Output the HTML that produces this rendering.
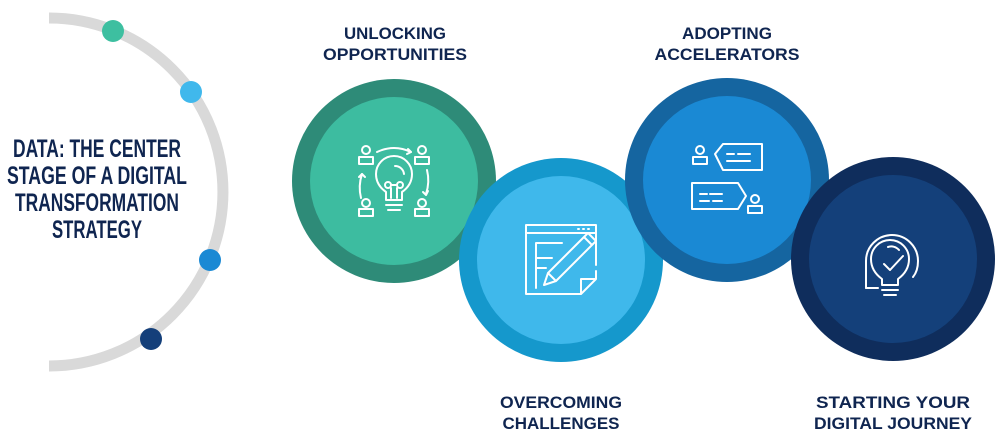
<!DOCTYPE html>
<html><head><meta charset="utf-8"><style>
html,body{margin:0;padding:0;background:#fff;width:1003px;height:446px;overflow:hidden}
svg{display:block}
.lb{font-family:"Liberation Sans",sans-serif;font-weight:bold;font-size:16.5px;fill:#0f2550;text-anchor:middle}
.tt{font-family:"Liberation Sans",sans-serif;font-weight:bold;font-size:25px;fill:#0f2550;text-anchor:middle}
.ic{fill:none;stroke:#fff;stroke-width:2;stroke-linecap:round;stroke-linejoin:round}
</style></head><body>
<svg width="1003" height="446" viewBox="0 0 1003 446" xmlns="http://www.w3.org/2000/svg">
<path d="M49 18 A174 174 0 0 1 49 366" fill="none" stroke="#d9d9d9" stroke-width="11"/>
<circle cx="113" cy="31" r="11" fill="#3dbfa0"/>
<circle cx="191" cy="92" r="11" fill="#40b8ec"/>
<circle cx="210" cy="260" r="11" fill="#1a89d4"/>
<circle cx="151" cy="339" r="11" fill="#143f7a"/>
<text class="tt" x="97" y="157" textLength="168" lengthAdjust="spacingAndGlyphs">DATA: THE CENTER</text>
<text class="tt" x="97" y="184" textLength="180" lengthAdjust="spacingAndGlyphs">STAGE OF A DIGITAL</text>
<text class="tt" x="97" y="211" textLength="164" lengthAdjust="spacingAndGlyphs">TRANSFORMATION</text>
<text class="tt" x="97" y="238" textLength="90" lengthAdjust="spacingAndGlyphs">STRATEGY</text>

<circle cx="394" cy="181" r="102" fill="#2e8b78"/>
<circle cx="394" cy="181" r="84" fill="#3dbca0"/>
<circle cx="561" cy="260" r="102" fill="#1598cc"/>
<circle cx="561" cy="260" r="84" fill="#3fb8eb"/>
<circle cx="727" cy="180" r="102" fill="#1565a0"/>
<circle cx="727" cy="180" r="84" fill="#1a89d4"/>
<circle cx="893" cy="259" r="102" fill="#0f2d5c"/>
<circle cx="893" cy="259" r="84" fill="#14407a"/>

<g class="ic">
<circle cx="366" cy="150" r="4"/><path d="M359 164v-7h14v7z"/>
<circle cx="422" cy="150" r="4"/><path d="M415 164v-7h14v7z"/>
<circle cx="366" cy="203" r="4"/><path d="M359 216v-7h14v7z"/>
<circle cx="422" cy="203" r="4"/><path d="M415 216v-7h14v7z"/>
<path d="M377 152q17-8 34 0"/><path d="M408 149l3 3-4 2"/>
<path d="M427 170q3 12-1 24"/><path d="M423 192l3 3 2-4"/>
<path d="M361 198q-3-12 1-24"/><path d="M359 177l3-3 3 3"/>
<path d="M386 200v-8q-10-7-10-18a18 18 0 0 1 36 0q0 11-10 18v8z"/>
<path d="M386 205h16M388 210h12"/>
<circle cx="388" cy="185" r="3"/><circle cx="400" cy="185" r="3"/><path d="M391 185h6M391 188v10M397 188v10"/>
<path d="M395 166a9 9 0 0 1 9 8"/>
</g>
<g class="ic">
<path d="M526 225h70v40M526 225v69h55l15-15v-8M581 294v-15h15"/>
<path d="M526 233h70"/>
<path d="M578 229h1M583 229h1M588 229h1"/>
<path d="M536 243h26M536 243v45M536 258h16M536 268h10"/>
<path d="M544 285l4-12 40-40 8 8-40 40z M548 273l8 8 M584 237l8 8"/>
</g>
<g class="ic">
<circle cx="700" cy="150" r="4"/><path d="M693 164v-7h14v7z"/>
<path d="M715 154l8-10h39v26h-39z"/>
<path d="M727 154h7M738 154h12M727 161h23"/>
<path d="M692 183h46l8 13-8 13h-46z"/>
<path d="M700 194h7M710 194h12M700 201h9M713 201h9"/>
<circle cx="755" cy="199" r="4"/><path d="M748 213v-7h14v7z"/>
</g>
<g class="ic">
<path d="M866 288v-27a26 26 0 0 1 52 0q0 10-5 16"/>
<path d="M866 288h12"/>
<path d="M882 279q-11-8-11-20a19 19 0 0 1 38 0q0 12-11 20v6h-16z"/>
<path d="M882 290h16M884 295h12"/>
<path d="M888 247a10 10 0 0 1 11 3"/>
<path d="M884 264l6 6 13-14"/>
</g>

<text class="lb" x="395" y="39" textLength="102" lengthAdjust="spacingAndGlyphs">UNLOCKING</text>
<text class="lb" x="395" y="60" textLength="144" lengthAdjust="spacingAndGlyphs">OPPORTUNITIES</text>
<text class="lb" x="727" y="39" textLength="90" lengthAdjust="spacingAndGlyphs">ADOPTING</text>
<text class="lb" x="727" y="60" textLength="145" lengthAdjust="spacingAndGlyphs">ACCELERATORS</text>
<text class="lb" x="561" y="408" textLength="122" lengthAdjust="spacingAndGlyphs">OVERCOMING</text>
<text class="lb" x="561" y="429" textLength="117" lengthAdjust="spacingAndGlyphs">CHALLENGES</text>
<text class="lb" x="893" y="408" textLength="154" lengthAdjust="spacingAndGlyphs">STARTING YOUR</text>
<text class="lb" x="893" y="429" textLength="158" lengthAdjust="spacingAndGlyphs">DIGITAL JOURNEY</text>
</svg>
</body></html>
